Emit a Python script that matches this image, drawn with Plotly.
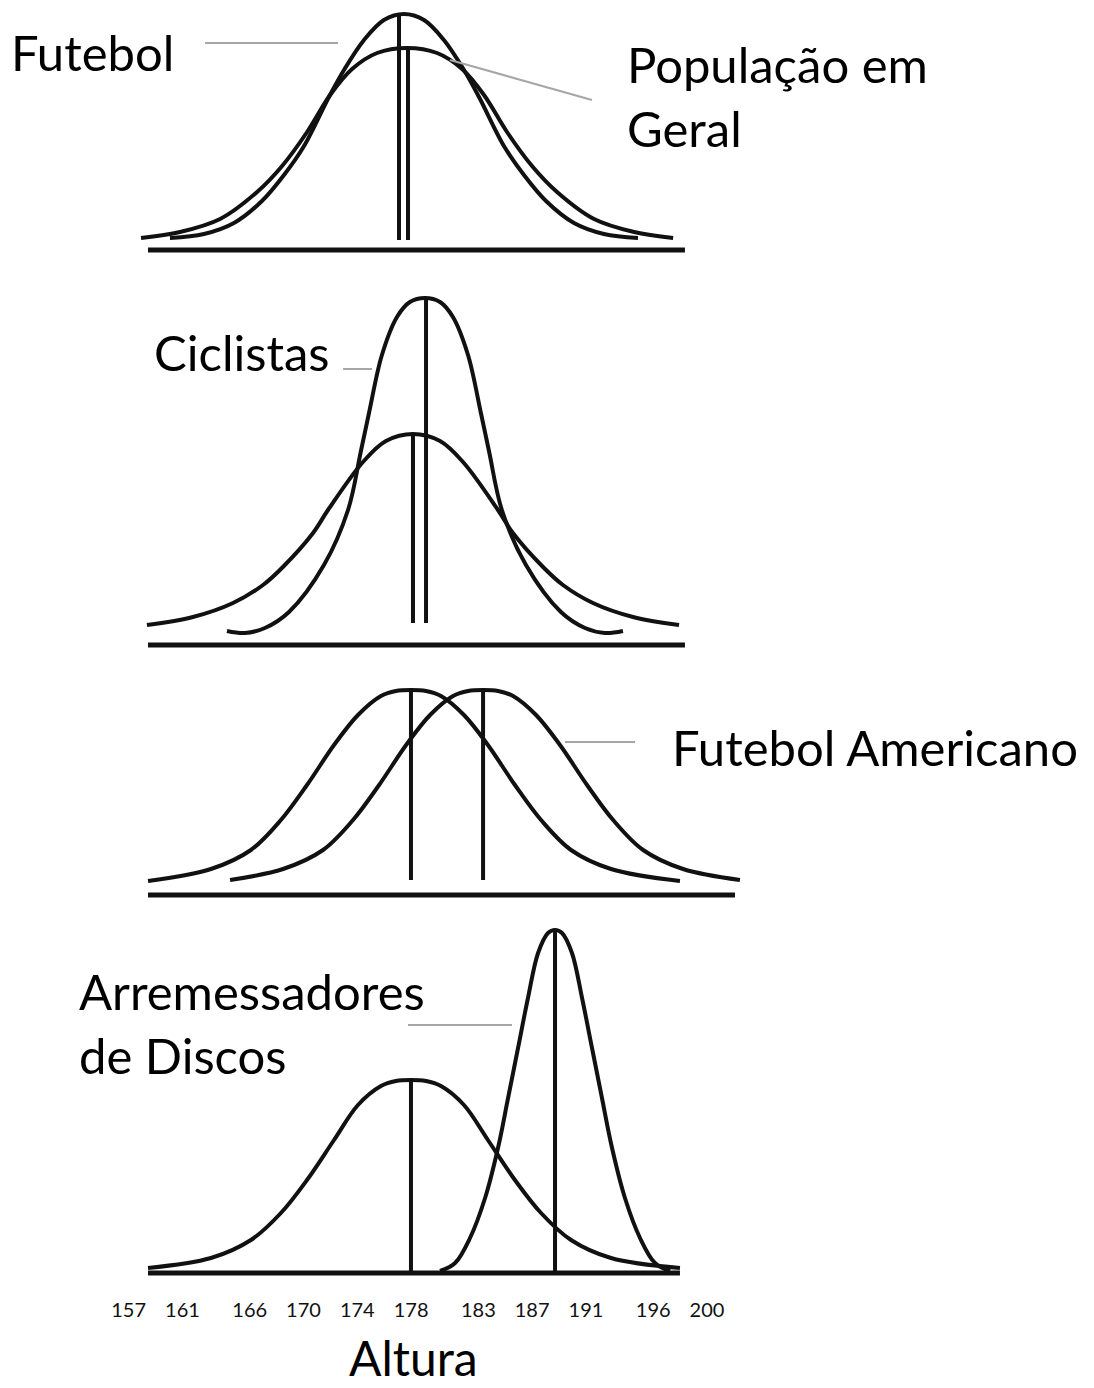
import plotly.graph_objects as go

# ---------------- data (x: height in cm, y: relative frequency, arbitrary units) ----------------
tick_vals = [157, 161, 166, 170, 174, 178, 183, 187, 191, 196, 200]
tick_text = ["157", "161", "166", "170", "174", "178", "183", "187", "191", "196", "200"]

# Panel 1: Futebol vs População em Geral
fut_x = [160.07, 162.60, 164.83, 166.91, 168.55, 170.04, 171.89, 173.01, 174.50, 175.98, 177.47,
         178.96, 180.44, 181.93, 183.05, 184.90, 186.39, 188.03, 190.11, 192.34, 194.87]
fut_y = [12, 16, 27, 49, 75, 104, 153, 180, 210, 230, 236, 230, 210, 180, 153, 104, 75, 49, 27, 16, 12]
pop1_x = [157.92, 160.82, 163.80, 166.55, 168.41, 170.27, 171.98, 173.61, 175.47, 177.70,
          179.93, 181.79, 183.42, 185.13, 186.99, 188.85, 191.60, 194.58, 197.48]
pop1_y = [12, 18, 31, 58, 84, 118, 155, 181, 197, 202, 197, 181, 155, 118, 84, 58, 31, 18, 12]

# Panel 2: Ciclistas
pop2_x = [158.36, 161.78, 164.76, 166.99, 168.47, 170.71, 171.82, 174.42, 176.13, 178.14,
          180.15, 181.86, 184.46, 185.57, 187.81, 189.29, 191.52, 194.50, 197.92]
pop2_y = [20, 28, 42, 60, 78, 112, 135, 183, 204, 211, 204, 183, 135, 112, 78, 60, 42, 28, 20]
cic_x = [164.31, 165.65, 167.13, 168.92, 171.52, 173.31, 174.27, 174.87, 175.83, 176.95, 177.91,
         179.03, 180.15, 181.11, 182.23, 183.19, 183.79, 184.75, 186.54, 189.14, 190.93, 192.41,
         193.75]
cic_y = [14, 12, 17, 33, 80, 135, 194, 232, 290, 328, 343, 347, 343, 328, 290, 232, 194, 135,
         80, 33, 17, 12, 14]

# Panel 3: Futebol Americano
pop3_x = [158.44, 163.12, 166.09, 168.32, 170.26, 172.27, 174.05, 175.76, 176.87, 177.99,
          179.11, 180.22, 181.93, 183.71, 185.72, 187.66, 189.89, 192.86, 197.99]
pop3_y = [14, 26, 45, 75, 110, 150, 180, 199, 204, 205, 204, 199, 180, 150, 110, 75, 45, 26, 14]
fa_x = [164.54, 168.48, 171.45, 173.68, 175.62, 177.63, 179.41, 181.12, 182.23, 183.35,
        184.47, 185.58, 187.29, 189.07, 191.08, 193.02, 195.25, 198.22, 202.45]
fa_y = [15, 26, 45, 75, 110, 150, 180, 199, 204, 205, 204, 199, 180, 150, 110, 75, 45, 26, 15]

# Panel 4: Arremessadores de Discos
pop4_x = [158.44, 163.12, 166.09, 168.32, 170.26, 172.27, 174.05, 175.76, 176.87, 177.99,
          179.11, 180.22, 181.93, 183.71, 185.72, 187.66, 189.89, 192.86, 197.99]
pop4_y = [5, 15, 33, 60, 93, 133, 168, 187, 192, 193, 192, 187, 168, 133, 93, 60, 33, 15, 5]
disc_x = [180.15, 181.27, 182.38, 183.50, 184.46, 185.21, 185.95, 186.69, 187.44, 188.18, 188.70,
          189.22, 189.96, 190.71, 191.45, 192.19, 192.94, 193.90, 195.02, 196.13, 197.25]
disc_y = [2, 10, 35, 75, 125, 175, 225, 275, 320, 340, 343, 340, 320, 275, 225, 175, 125, 75,
          35, 10, 2]

# mean lines per panel: (mean, base, peak)
means_p1 = [(177.10, 10, 236), (177.77, 10, 202)]
means_p2 = [(178.14, 22, 211), (179.11, 22, 347)]
means_p3 = [(177.99, 15, 205), (183.35, 15, 205)]
means_p4 = [(177.99, 2, 193), (188.70, 2, 343)]

# horizontal base lines (start, end)
base_p1 = (158.44, 198.36)
base_p2 = (158.44, 198.36)
base_p3 = (158.44, 202.08)
base_p4 = (158.44, 197.99)

# ---------------- figure ----------------
W, H = 1094, 1388
X0 = 147.435
XSCALE = 0.074349  # cm per pixel
xrange_ = [X0, X0 + W * XSCALE]

# panel geometry in pixels: (axis line, domain bottom, domain top)
panels = [(250, 265, 0), (645, 660, 280), (895, 910, 670), (1273, 1296, 905)]

fig = go.Figure()
BLACK = "#111111"
LW = 4


def add_curve(x, y, yref):
    fig.add_trace(go.Scatter(x=x, y=y, mode="lines", xaxis="x", yaxis=yref,
                             line=dict(color=BLACK, width=LW, shape="spline", smoothing=1.0),
                             hoverinfo="skip", showlegend=False))


def add_means(means, yref):
    for m, b, p in means:
        fig.add_trace(go.Scatter(x=[m, m], y=[b, p], mode="lines", xaxis="x", yaxis=yref,
                                 line=dict(color=BLACK, width=LW),
                                 hoverinfo="skip", showlegend=False))


def add_base(base, yref):
    fig.add_trace(go.Scatter(x=list(base), y=[0, 0], mode="lines", xaxis="x", yaxis=yref,
                             line=dict(color=BLACK, width=5),
                             hoverinfo="skip", showlegend=False))


add_curve(fut_x, fut_y, "y")
add_curve(pop1_x, pop1_y, "y")
add_means(means_p1, "y")
add_base(base_p1, "y")

add_curve(pop2_x, pop2_y, "y2")
add_curve(cic_x, cic_y, "y2")
add_means(means_p2, "y2")
add_base(base_p2, "y2")

add_curve(pop3_x, pop3_y, "y3")
add_curve(fa_x, fa_y, "y3")
add_means(means_p3, "y3")
add_base(base_p3, "y3")

add_curve(pop4_x, pop4_y, "y4")
add_curve(disc_x, disc_y, "y4")
add_means(means_p4, "y4")
add_base(base_p4, "y4")

layout = dict(
    width=W, height=H,
    margin=dict(l=0, r=0, t=0, b=0),
    paper_bgcolor="white", plot_bgcolor="white",
    showlegend=False,
    xaxis=dict(range=xrange_, domain=[0, 1], anchor="y4", showgrid=False, zeroline=False,
               showline=False, ticks="", tickvals=tick_vals, ticktext=tick_text,
               tickfont=dict(family="Lato", size=20, color="#111111"),
               ticklabelstandoff=0, fixedrange=True),
)
for i, (a, b, t) in enumerate(panels):
    key = "yaxis" if i == 0 else f"yaxis{i + 1}"
    layout[key] = dict(domain=[1 - b / H, 1 - t / H], range=[a - b, a - t], anchor="x",
                       showgrid=False, zeroline=False, showline=False, showticklabels=False,
                       ticks="", fixedrange=True)
fig.update_layout(**layout)

GRAY = "#a6a6a6"
leaders = [
    ("y", 162.68, 207, 172.57, 207),
    ("y", 180.89, 190, 191.45, 150),
    ("y2", 172.94, 276, 175.09, 276),
    ("y3", 189.44, 153, 194.65, 153),
    ("y4", 177.77, 248, 185.50, 248),
]
for yr, x0, y0, x1, y1 in leaders:
    fig.add_shape(type="line", xref="x", yref=yr, x0=x0, y0=y0, x1=x1, y1=y1,
                  line=dict(color=GRAY, width=2))

FONT = dict(family="Lato", size=49, color="black")
labels = [
    ("Futebol", 9, 52),
    ("População em<br>Geral", 625, 96),
    ("Ciclistas", 152, 352),
    ("Futebol Americano", 670, 747),
    ("Arremessadores<br>de Discos", 77, 1023),
]
for txt, px, py in labels:
    fig.add_annotation(text=txt, xref="paper", yref="paper", x=px / W, y=1 - py / H,
                       xanchor="left", yanchor="middle", align="left", showarrow=False,
                       font=FONT)
fig.add_annotation(text="Altura", xref="paper", yref="paper", x=413 / W, y=1 - 1357 / H,
                   xanchor="center", yanchor="middle", showarrow=False, borderpad=0,
                   font=dict(family="Lato", size=48, color="black"))

fig.write_html("out.html", config={"displayModeBar": False},
               post_script="document.body.style.margin='0';document.body.style.overflow='hidden';")
